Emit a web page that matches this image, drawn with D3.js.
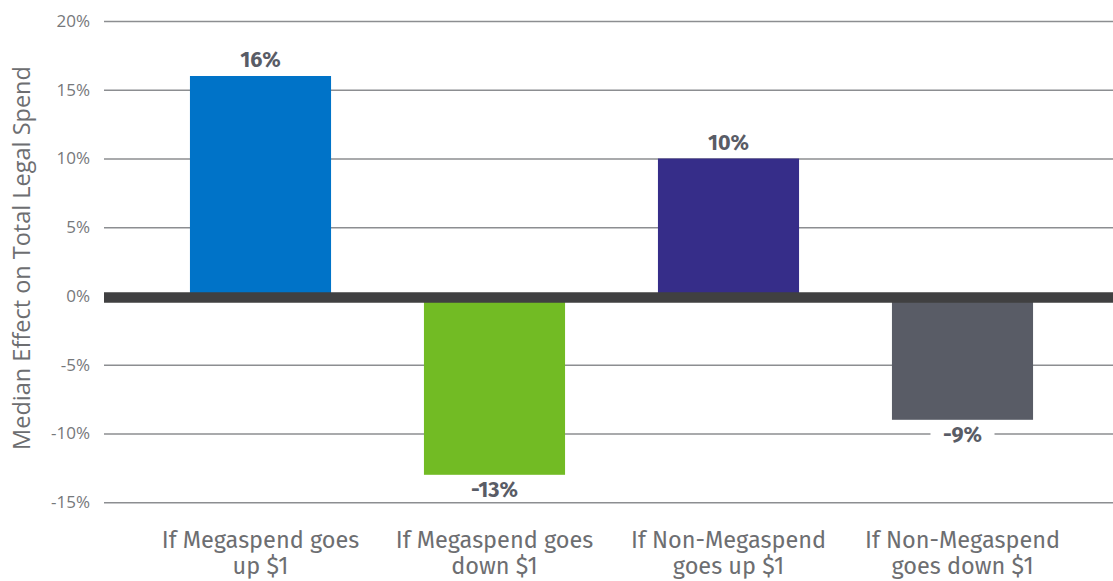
<!DOCTYPE html>
<html>
<head>
<meta charset="utf-8">
<script src="https://cdn.jsdelivr.net/npm/d3@7"></script>
<style>
  html, body { margin: 0; padding: 0; background: #fff; }
  svg { display: block; }
</style>
</head>
<body>
<svg id="chart" width="1113" height="581"></svg>
<script>
// Chart data
const categories = [
  ["If Megaspend goes", "up $1"],
  ["If Megaspend goes", "down $1"],
  ["If Non-Megaspend", "goes up $1"],
  ["If Non-Megaspend", "goes down $1"]
];
const values = [16, -13, 10, -9];
const barColors = ["#0073c8", "#72bb24", "#362d89", "#595c66"];
const yTicks = [-15, -10, -5, 0, 5, 10, 15, 20];
const yTitle = "Median Effect on Total Legal Spend";

const svg = d3.select("#chart");
const gridLeft = 104, gridRight = 1113;

const y = d3.scaleLinear().domain([-15, 20]).range([502.3, 21]);
const x = d3.scaleBand()
  .domain(d3.range(categories.length))
  .range([143.5, 1079.5])
  .paddingInner(0.397)
  .paddingOuter(0.1985);

// Gridlines and tick labels
const yAxis = d3.axisLeft(y)
  .tickValues(yTicks)
  .tickSize(-(gridRight - gridLeft))
  .tickPadding(14)
  .tickFormat(d => d + "%");
const ga = svg.append("g")
  .attr("transform", `translate(${gridLeft},0)`)
  .call(yAxis);
ga.select(".domain").remove();
ga.selectAll(".tick line").attr("stroke", "#8c8e91").attr("stroke-width", 1.5);
ga.selectAll(".tick text")
  .attr("fill", "#76787b")
  .attr("font-family", "'Open Sans', sans-serif")
  .attr("font-size", 17);

// Y axis title
svg.append("text")
  .attr("transform", `translate(30,258) rotate(-90)`)
  .attr("text-anchor", "middle")
  .attr("fill", "#6d6e71")
  .attr("font-family", "'Open Sans', sans-serif")
  .attr("font-size", 23.5)
  .text(yTitle);

// Bars
svg.append("g").selectAll("rect")
  .data(values)
  .join("rect")
  .attr("x", (d, i) => x(i))
  .attr("width", x.bandwidth())
  .attr("y", d => y(Math.max(0, d)))
  .attr("height", d => Math.abs(y(d) - y(0)))
  .attr("fill", (d, i) => barColors[i]);

// Zero baseline
svg.append("line")
  .attr("x1", gridLeft).attr("x2", gridRight)
  .attr("y1", y(0) + 1.5).attr("y2", y(0) + 1.5)
  .attr("stroke", "#404041")
  .attr("stroke-width", 10.5);

// Value labels
const labels = svg.append("g").selectAll("g")
  .data(values)
  .join("g")
  .attr("transform", (d, i) => {
    const cx = x(i) + x.bandwidth() / 2;
    const ty = d >= 0 ? y(d) - 9 : y(d) + 22;
    return `translate(${cx},${ty})`;
  });
labels.append("rect")
  .attr("x", -32).attr("y", -18).attr("width", 64).attr("height", 22)
  .attr("fill", "#fff");
labels.append("text")
  .attr("text-anchor", "middle")
  .attr("fill", "#595c66")
  .attr("font-family", "'Fira Sans', 'Noto Sans', sans-serif")
  .attr("font-weight", "bold")
  .attr("font-size", 21.5)
  .text(d => d + "%");

// Category labels
const cat = svg.append("g").selectAll("text")
  .data(categories)
  .join("text")
  .attr("text-anchor", "middle")
  .attr("fill", "#6d6e71")
  .attr("font-family", "'Fira Sans', 'Noto Sans', sans-serif")
  .attr("font-size", 23.5)
  .attr("x", (d, i) => x(i) + x.bandwidth() / 2)
  .attr("y", 548);
cat.selectAll("tspan")
  .data(d => d)
  .join("tspan")
  .attr("x", function() { return this.parentNode.getAttribute("x"); })
  .attr("dy", (d, j) => j === 0 ? 0 : 26)
  .text(d => d);
</script>
</body>
</html>
